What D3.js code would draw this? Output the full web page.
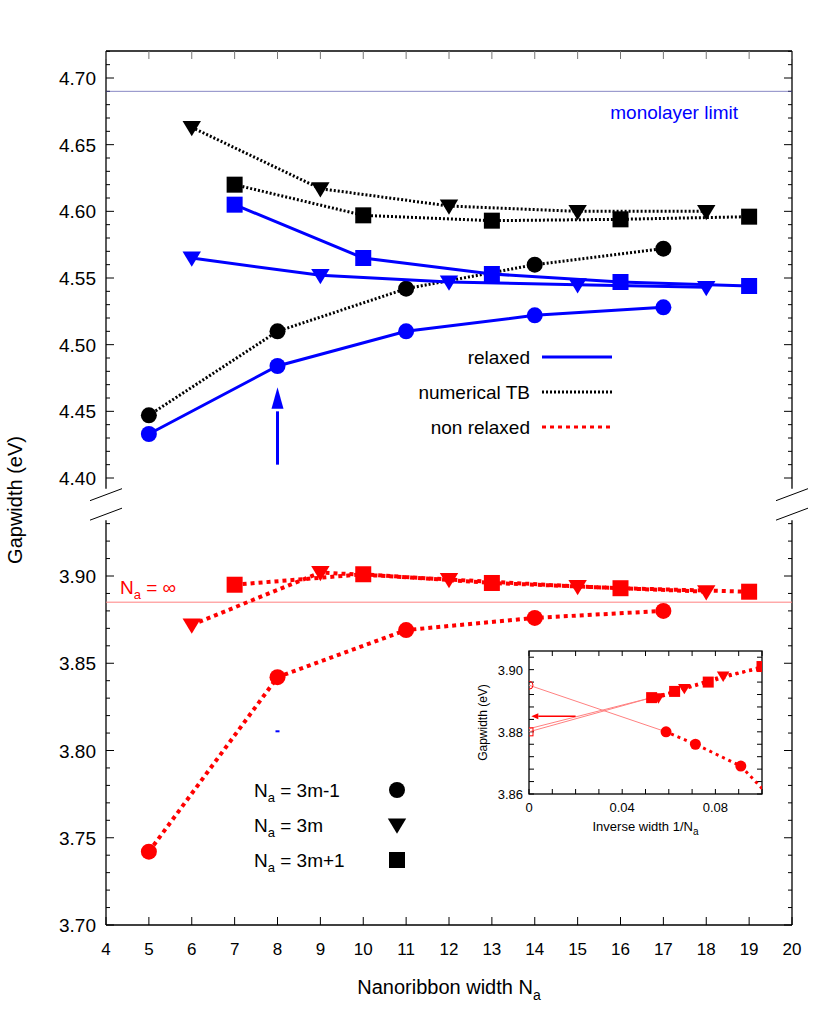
<!DOCTYPE html>
<html><head><meta charset="utf-8">
<script src="https://cdn.jsdelivr.net/npm/d3@7"></script>
<style>body{margin:0;background:#fff}text{font-family:"Liberation Sans",Arial,sans-serif}</style>
</head><body><div id="chart"></div>
<script>
const xC = [5, 8, 11, 14, 17], xT = [6, 9, 12, 15, 18], xS = [7, 10, 13, 16, 19];
const relaxedC = [4.433, 4.484, 4.510, 4.522, 4.528];
const relaxedT = [4.565, 4.552, 4.547, 4.545, 4.543];
const relaxedS = [4.605, 4.565, 4.553, 4.547, 4.544];
const tbC = [4.447, 4.510, 4.542, 4.560, 4.572];
const tbT = [4.663, 4.617, 4.604, 4.600, 4.600];
const tbS = [4.620, 4.597, 4.593, 4.594, 4.596];
const nonC = [3.742, 3.842, 3.869, 3.876, 3.880];
const nonT = [3.872, 3.902, 3.898, 3.894, 3.891];
const nonS = [3.895, 3.901, 3.896, 3.893, 3.891];
const monolayer = 4.69, infLimit = 3.885;
const upperTicks = [4.40, 4.45, 4.50, 4.55, 4.60, 4.65, 4.70];
const lowerTicks = [3.70, 3.75, 3.80, 3.85, 3.90];
const xTicks = d3.range(4, 21);
const insetFitC = [3.895, 3.880], insetFitS = [3.880, 3.891], insetFitT = [3.881, 3.891];

const W = 822, H = 1028;
const svg = d3.select('#chart').append('svg').attr('width', W).attr('height', H);
const L = 106, R = 792, T = 51, B = 925;
const x = d3.scaleLinear().domain([4, 20]).range([L, R]);
const yU = d3.scaleLinear().domain([4.40, 4.70]).range([478, 78]);
const yL = d3.scaleLinear().domain([3.70, 3.90]).range([925, 576]);
const upBot = yU(4.392), loTop = yL(3.932);
const BLUE = '#0000ff', RED = '#ff0000';

// frame
const fr = svg.append('g').attr('stroke', '#000').attr('stroke-width', 1.3);
fr.append('line').attr('x1', L).attr('x2', R).attr('y1', T).attr('y2', T);
fr.append('line').attr('x1', L).attr('x2', R).attr('y1', B).attr('y2', B);
[L, R].forEach(xx => {
  fr.append('line').attr('x1', xx).attr('x2', xx).attr('y1', T).attr('y2', upBot);
  fr.append('line').attr('x1', xx).attr('x2', xx).attr('y1', loTop).attr('y2', B);
  [upBot + 6, loTop - 6].forEach(yy => fr.append('line')
    .attr('x1', xx - 16).attr('x2', xx + 16).attr('y1', yy + 6).attr('y2', yy - 6).attr('stroke-width', 1));
});

// ticks
const tk = svg.append('g').attr('stroke', '#000').attr('stroke-width', 1);
xTicks.forEach(t => {
  tk.append('line').attr('x1', x(t)).attr('x2', x(t)).attr('y1', B).attr('y2', B - 8);
  tk.append('line').attr('x1', x(t)).attr('x2', x(t)).attr('y1', T).attr('y2', T + 8).attr('stroke', '#777');
  svg.append('text').attr('x', x(t)).attr('y', B + 30).attr('text-anchor', 'middle').attr('font-size', 17).text(t);
});
function yTicks(scale, lo, hi, majors) {
  d3.range(Math.round(lo * 100), Math.round(hi * 100) + 1).forEach(i => {
    const v = i / 100, maj = i % 5 === 0, yy = scale(v);
    const len = maj ? 8 : 4;
    tk.append('line').attr('x1', L).attr('x2', L + len).attr('y1', yy).attr('y2', yy);
    tk.append('line').attr('x1', R).attr('x2', R - len).attr('y1', yy).attr('y2', yy);
  });
  majors.forEach(v => svg.append('text').attr('x', L - 10).attr('y', scale(v) + 7)
    .attr('text-anchor', 'end').attr('font-size', 19).text(v.toFixed(2)));
}
yTicks(yU, 4.40, 4.72, upperTicks);
yTicks(yL, 3.70, 3.93, lowerTicks);

// reference lines
svg.append('line').attr('x1', L).attr('x2', R).attr('y1', yU(monolayer)).attr('y2', yU(monolayer))
  .attr('stroke', '#5555aa').attr('stroke-width', 0.7);
svg.append('text').attr('x', 738).attr('y', yU(monolayer) + 28).attr('text-anchor', 'end')
  .attr('fill', BLUE).attr('font-size', 19).text('monolayer limit');
svg.append('line').attr('x1', L).attr('x2', R).attr('y1', yL(infLimit)).attr('y2', yL(infLimit))
  .attr('stroke', '#ff8080').attr('stroke-width', 1);
const inf = svg.append('text').attr('x', 120).attr('y', yL(infLimit) - 8).attr('fill', RED).attr('font-size', 19);
inf.append('tspan').text('N');
inf.append('tspan').attr('font-size', 13).attr('dy', 5).text('a');
inf.append('tspan').attr('dy', -5).text(' = ∞');

function sym(g, type, cx, cy, s, color) {
  if (type === 'c') g.append('circle').attr('cx', cx).attr('cy', cy).attr('r', s).attr('fill', color);
  else if (type === 's') g.append('rect').attr('x', cx - s).attr('y', cy - s).attr('width', 2 * s).attr('height', 2 * s).attr('fill', color);
  else g.append('path').attr('d', `M${cx - s * 1.15},${cy - s * 0.8}L${cx + s * 1.15},${cy - s * 0.8}L${cx},${cy + s * 1.1}Z`).attr('fill', color);
}

function series(xs, ys, scale, type, color, dash, sw) {
  const g = svg.append('g');
  const pts = xs.map((v, i) => [x(v), scale(ys[i])]);
  g.append('path').attr('d', d3.line()(pts)).attr('fill', 'none').attr('stroke', color)
    .attr('stroke-width', sw).attr('stroke-dasharray', dash);
  pts.forEach(p => sym(g, type, p[0], p[1], 8, color));
}
series(xC, tbC, yU, 'c', '#000', '2,2', 3);
series(xT, tbT, yU, 't', '#000', '2,2', 3);
series(xS, tbS, yU, 's', '#000', '2,2', 3);
series(xC, relaxedC, yU, 'c', BLUE, null, 3);
series(xT, relaxedT, yU, 't', BLUE, null, 3);
series(xS, relaxedS, yU, 's', BLUE, null, 3);
series(xC, nonC, yL, 'c', RED, '4,4', 4);
series(xT, nonT, yL, 't', RED, '4,4', 4);
series(xS, nonS, yL, 's', RED, '4,4', 4);

// arrow and blue dot
svg.append('line').attr('x1', x(8)).attr('x2', x(8)).attr('y1', yU(4.41)).attr('y2', yU(4.45))
  .attr('stroke', BLUE).attr('stroke-width', 3);
svg.append('path').attr('d', `M${x(8) - 6},${yU(4.452)}L${x(8) + 6},${yU(4.452)}L${x(8)},${yU(4.468)}Z`).attr('fill', BLUE);
svg.append('rect').attr('x', x(8) - 2).attr('y', yL(3.811) - 1).attr('width', 4).attr('height', 2).attr('fill', BLUE);

// line legend
[['relaxed', BLUE, null, 357], ['numerical TB', '#000', '2,2', 392], ['non relaxed', RED, '4,4', 427]].forEach(([t, c, d, yy]) => {
  svg.append('text').attr('x', 530).attr('y', yy + 7).attr('text-anchor', 'end').attr('font-size', 19).text(t);
  svg.append('line').attr('x1', 542).attr('x2', 612).attr('y1', yy).attr('y2', yy)
    .attr('stroke', c).attr('stroke-width', 3).attr('stroke-dasharray', d);
});
// symbol legend
[['3m-1', 'c', 790], ['3m', 't', 825], ['3m+1', 's', 860]].forEach(([t, s, yy]) => {
  const tx = svg.append('text').attr('x', 254).attr('y', yy + 7).attr('font-size', 19);
  tx.append('tspan').text('N');
  tx.append('tspan').attr('font-size', 13).attr('dy', 5).text('a');
  tx.append('tspan').attr('dy', -5).text(' = ' + t);
  sym(svg, s, 397, yy, 8, '#000');
});

// axis labels
const xl = svg.append('text').attr('x', 449).attr('y', 994).attr('text-anchor', 'middle').attr('font-size', 20);
xl.append('tspan').text('Nanoribbon width N');
xl.append('tspan').attr('font-size', 14).attr('dy', 6).text('a');
svg.append('text').attr('transform', 'translate(22,500) rotate(-90)').attr('text-anchor', 'middle')
  .attr('font-size', 20).text('Gapwidth (eV)');

// inset
const iL = 529, iR = 762, iT = 651, iB = 794;
const ix = d3.scaleLinear().domain([0, 0.1]).range([iL, iR]);
const iy = d3.scaleLinear().domain([3.86, 3.906]).range([iB, iT]);
const ins = svg.append('g');
ins.append('rect').attr('x', iL - 3).attr('y', iT - 3).attr('width', iR - iL + 6).attr('height', iB - iT + 6).attr('fill', '#fff');
const clipId = 'ic';
ins.append('clipPath').attr('id', clipId).append('rect').attr('x', iL).attr('y', iT).attr('width', iR - iL).attr('height', iB - iT);
d3.range(0, 0.1001, 0.01).forEach(v => {
  ins.append('line').attr('x1', ix(v)).attr('x2', ix(v)).attr('y1', iB).attr('y2', iB - 5).attr('stroke', '#000');
  ins.append('line').attr('x1', ix(v)).attr('x2', ix(v)).attr('y1', iT).attr('y2', iT + 5).attr('stroke', '#000');
});
[0, 0.04, 0.08].forEach(v => ins.append('text').attr('x', ix(v)).attr('y', iB + 18).attr('text-anchor', 'middle').attr('font-size', 13).text(v));
d3.range(3860, 3907, 4).forEach(i => {
  const yy = iy(i / 1000);
  ins.append('line').attr('x1', iL).attr('x2', iL + 5).attr('y1', yy).attr('y2', yy).attr('stroke', '#000');
  ins.append('line').attr('x1', iR).attr('x2', iR - 5).attr('y1', yy).attr('y2', yy).attr('stroke', '#000');
});
[3.86, 3.88, 3.90].forEach(v => ins.append('text').attr('x', iL - 6).attr('y', iy(v) + 5).attr('text-anchor', 'end').attr('font-size', 13).text(v.toFixed(2)));
ins.append('rect').attr('x', iL).attr('y', iT).attr('width', iR - iL).attr('height', iB - iT).attr('fill', 'none').attr('stroke', '#000').attr('stroke-width', 1.3);
const ic = ins.append('g').attr('clip-path', `url(#${clipId})`);
// fits
[[insetFitC, 1 / 17], [insetFitS, 1 / 19], [insetFitT, 1 / 19]].forEach(([f, xe]) => {
  ic.append('line').attr('x1', ix(0)).attr('x2', ix(xe)).attr('y1', iy(f[0])).attr('y2', iy(f[1]))
    .attr('stroke', '#ff8080').attr('stroke-width', 1);
});
ic.append('circle').attr('cx', ix(0)).attr('cy', iy(insetFitC[0])).attr('r', 4).attr('fill', 'none').attr('stroke', RED);
ic.append('rect').attr('x', ix(0) - 4).attr('y', iy(insetFitS[0]) - 4).attr('width', 8).attr('height', 8).attr('fill', 'none').attr('stroke', RED);
ic.append('line').attr('x1', ix(0.02)).attr('x2', ix(0.004)).attr('y1', iy(infLimit)).attr('y2', iy(infLimit)).attr('stroke', RED).attr('stroke-width', 1.5);
ic.append('path').attr('d', `M${ix(0.001)},${iy(infLimit)}l7,-3l0,6Z`).attr('fill', RED);
function iser(xs, ys, type) {
  const pts = xs.map((v, i) => [ix(1 / v), iy(ys[i])]);
  ic.append('path').attr('d', d3.line()(pts)).attr('fill', 'none').attr('stroke', RED).attr('stroke-width', 3).attr('stroke-dasharray', '3,4');
  pts.forEach(p => sym(ic, type, p[0], p[1], 5.5, RED));
}
iser(xC, nonC, 'c');
iser(xT, nonT, 't');
iser(xS, nonS, 's');
svg.append('text').attr('transform', `translate(${iL - 42},${(iT + iB) / 2}) rotate(-90)`).attr('text-anchor', 'middle').attr('font-size', 12).text('Gapwidth (eV)');
const il = svg.append('text').attr('x', (iL + iR) / 2).attr('y', iB + 37).attr('text-anchor', 'middle').attr('font-size', 13);
il.append('tspan').text('Inverse width 1/N');
il.append('tspan').attr('font-size', 10).attr('dy', 4).text('a');
</script></body></html>
